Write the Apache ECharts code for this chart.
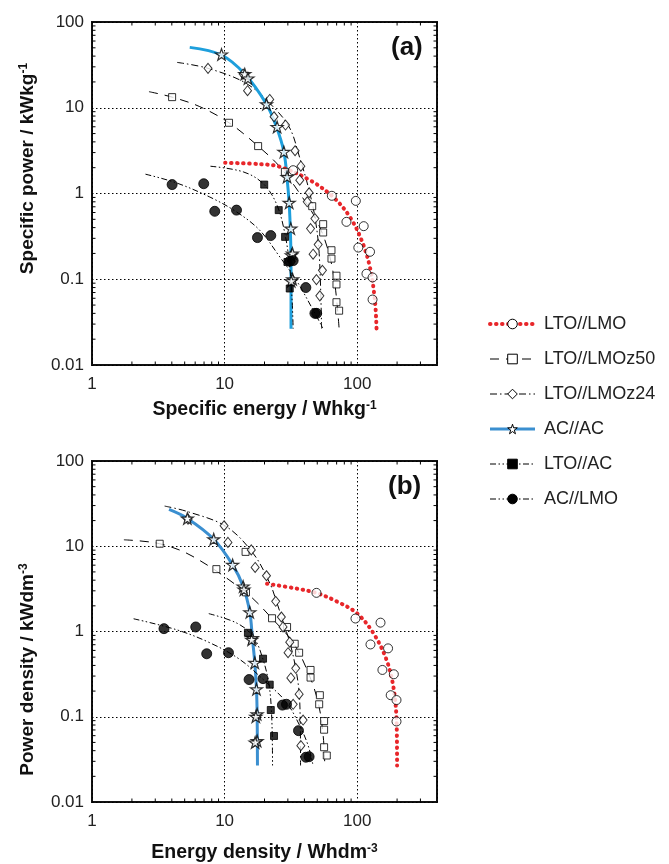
<!DOCTYPE html>
<html>
<head>
<meta charset="utf-8">
<script src="https://cdn.jsdelivr.net/npm/echarts/dist/echarts.min.js"></script>
<style>
  html, body { margin: 0; background: #fff; }
  #chart { width: 669px; height: 864px; }
</style>
</head>
<body>
<div id="chart"></div>
<script>
// series names (legend order)
const names = ['LTO//LMO', 'LTO//LMOz50', 'LTO//LMOz24', 'AC//AC', 'LTO//AC', 'AC//LMO'];

// axis ranges + minor tick values
const xRange = [1, 400];
const yRange = [0.01, 100];
const xMinor = [2, 3, 4, 5, 6, 7, 8, 9, 20, 30, 40, 50, 60, 70, 80, 90, 200, 300];
const yMinor = [0.02, 0.03, 0.04, 0.05, 0.06, 0.07, 0.08, 0.09, 0.2, 0.3, 0.4, 0.5, 0.6, 0.7, 0.8, 0.9,
  2, 3, 4, 5, 6, 7, 8, 9, 20, 30, 40, 50, 60, 70, 80, 90];

// ---- (a) specific energy (Wh/kg) vs specific power (kW/kg) ----
// fitted curves
const aFitLtoLmo = [[10.1, 2.28], [18.4, 2.2], [26.1, 2.05], [44, 1.43], [65.9, 0.91], [88, 0.534], [108, 0.285], [124.7, 0.139], [136, 0.057], [140, 0.0266]];
const aFitLmoz50 = [[2.69, 15.4], [4.02, 13.3], [6.5, 10.3], [10.8, 6.68], [17.9, 3.57], [26.1, 2.05], [36.9, 1.0], [49.3, 0.489], [60.4, 0.218], [67.8, 0.089], [73.1, 0.0265]];
const aFitLmoz24 = [[4.38, 33.8], [7.5, 28.8], [14.6, 19.2], [23.2, 10.3], [31, 5.8], [36.9, 2.6], [42.7, 1.2], [48, 0.53], [51.7, 0.2], [53.9, 0.0266]];
const aFitAcAc = [[5.46, 50.6], [9.46, 41.2], [14.2, 24.7], [20.7, 11.0], [24.6, 6.0], [28.0, 3.06], [29.6, 1.5], [30.7, 0.76], [31.4, 0.34], [31.7, 0.14], [31.7, 0.0265]];
const aFitLtoAc = [[7.82, 2.08], [13.8, 1.79], [19.5, 1.31], [24.6, 0.76], [28.5, 0.341], [31.0, 0.139], [32.3, 0.057], [32.9, 0.0265]];
const aFitAcLmo = [[2.53, 1.68], [4.33, 1.33], [7.73, 0.91], [12.3, 0.61], [18.4, 0.373], [26.1, 0.182], [34.8, 0.097], [45.2, 0.0475], [55.4, 0.0265]];
// measured points
const aPtsLtoLmo = [[32.9, 1.87], [64.4, 0.94], [97.7, 0.82], [83, 0.467], [112, 0.416], [102, 0.234], [125, 0.209], [117.5, 0.116], [130.6, 0.105], [130.6, 0.058]];
const aPtsLmoz50 = [[4.02, 13.3], [10.8, 6.68], [17.9, 3.57], [28.5, 1.79], [45.8, 0.711], [55.4, 0.439], [55.4, 0.351], [64, 0.218], [64, 0.174], [69.8, 0.11], [69.8, 0.087], [69.8, 0.054], [73.1, 0.043]];
const aPtsLmoz24 = [[7.5, 28.8], [13.8, 24.7], [14.9, 15.8], [21.9, 12.5], [23.6, 7.85], [28.8, 6.28], [34.0, 3.15], [37.6, 2.08], [36.9, 1.43], [43.4, 1.02], [42.0, 0.80], [48.0, 0.51], [44.5, 0.39], [50.8, 0.254], [46.5, 0.196], [54.7, 0.127], [49.3, 0.099], [52.3, 0.064]];
const aPtsAcAc = [[9.48, 41.9], [14.2, 24.7], [15.0, 22.0], [20.7, 11.0], [24.9, 5.98], [28.0, 3.06], [29.6, 1.56], [30.7, 0.78], [31.6, 0.39], [31.9, 0.19], [32.5, 0.2], [32.6, 0.1], [31.8, 0.095]];
const aPtsLtoAc = [[19.9, 1.27], [25.6, 0.64], [28.6, 0.312], [29.8, 0.159], [31.0, 0.078]];
const aPtsAcLmo = [[4.02, 1.27], [6.96, 1.30], [8.43, 0.62], [12.3, 0.64], [17.7, 0.306], [22.3, 0.323], [31.0, 0.162], [32.9, 0.165], [41.0, 0.080], [48.0, 0.040], [49.5, 0.040]];

// ---- (b) energy density (Wh/dm3) vs power density (kW/dm3) ----
const bFitLtoLmo = [[20.9, 3.63], [32.9, 3.24], [49.3, 2.83], [69.8, 2.26], [98.9, 1.65], [132, 0.965], [166, 0.471], [187, 0.23], [198, 0.094], [200, 0.0268]];
const bFitLmoz50 = [[1.74, 11.9], [3.24, 10.7], [5.78, 7.57], [14.6, 2.83], [23.2, 1.38], [32.9, 0.738], [42.7, 0.33], [50.8, 0.147], [55.4, 0.06], [57.0, 0.0268]];
const bFitLmoz24 = [[3.53, 29.6], [5.3, 25.4], [10.3, 17.0], [16.4, 8.28], [21.9, 3.70], [24.6, 2.26], [27.6, 1.3], [31.1, 0.738], [34.4, 0.37], [36.5, 0.192], [37.2, 0.09], [37.4, 0.0268]];
const bFitAcAc = [[3.81, 27.0], [5.24, 21.2], [8.28, 12.1], [11.5, 6.05], [13.8, 3.38], [15.5, 1.68], [16.2, 0.84], [16.9, 0.43], [17.4, 0.21], [17.6, 0.107], [17.7, 0.0268]];
const bFitLtoAc = [[7.6, 1.62], [12.3, 1.26], [16.4, 0.88], [19.5, 0.47], [21.7, 0.23], [22.7, 0.094], [23.0, 0.0268]];
const bFitAcLmo = [[2.06, 1.41], [4.33, 1.05], [7.73, 0.738], [13.0, 0.471], [20.7, 0.252], [29.3, 0.147], [36.9, 0.0785], [42.7, 0.0458], [46.5, 0.0268]];
const bPtsLtoLmo = [[49.3, 2.84], [97.1, 1.42], [150, 1.27], [126, 0.705], [171, 0.634], [155, 0.354], [189, 0.315], [179, 0.179], [198, 0.157], [198, 0.088]];
const bPtsLmoz50 = [[3.24, 10.7], [8.67, 5.39], [14.4, 8.59], [14.5, 2.88], [22.8, 1.43], [29.6, 1.13], [33.8, 0.718], [36.5, 0.564], [44.5, 0.354], [44.5, 0.288], [52.3, 0.179], [51.7, 0.14], [56.3, 0.089], [56.3, 0.0705], [56.3, 0.0439], [59.0, 0.0351]];
const bPtsLmoz24 = [[5.3, 20.8], [9.91, 17.4], [10.6, 11.1], [15.9, 9.06], [17.0, 5.64], [20.7, 4.51], [24.3, 2.26], [26.8, 1.48], [27.6, 1.13], [31.0, 0.75], [30.1, 0.564], [34.4, 0.37], [31.6, 0.285], [36.5, 0.184], [32.9, 0.14], [39.1, 0.0914], [37.6, 0.0458]];
const bPtsAcAc = [[5.24, 21.2], [8.28, 12.1], [11.5, 6.05], [13.8, 3.38], [14.0, 3.1], [15.5, 1.68], [16.2, 0.84], [16.0, 0.8], [16.9, 0.43], [17.4, 0.21], [17.6, 0.107], [17.2, 0.1], [17.6, 0.052], [17.0, 0.05]];
const bPtsLtoAc = [[15.0, 0.965], [19.5, 0.48], [21.9, 0.238], [22.3, 0.12], [23.6, 0.0595]];
const bPtsAcLmo = [[3.49, 1.08], [6.06, 1.13], [7.33, 0.548], [10.7, 0.564], [15.3, 0.273], [19.5, 0.28], [27.3, 0.137], [29.3, 0.14], [36.1, 0.0687], [41.0, 0.0335], [43.4, 0.034]];

const fits = [
  [aFitLtoLmo, aFitLmoz50, aFitLmoz24, aFitAcAc, aFitLtoAc, aFitAcLmo],
  [bFitLtoLmo, bFitLmoz50, bFitLmoz24, bFitAcAc, bFitLtoAc, bFitAcLmo]
];
const pts = [
  [aPtsLtoLmo, aPtsLmoz50, aPtsLmoz24, aPtsAcAc, aPtsLtoAc, aPtsAcLmo],
  [bPtsLtoLmo, bPtsLmoz50, bPtsLmoz24, bPtsAcAc, bPtsLtoAc, bPtsAcLmo]
];

const FONT = '"Liberation Sans", Arial, sans-serif';
const STAR = 'path://M50,2 L61,36 L97,36 L68,57 L79,92 L50,71 L21,92 L32,57 L3,36 L39,36 Z';
const openStyle = { color: '#fff', borderColor: '#000', borderWidth: 1 };
const fillStyle = { color: '#000', borderColor: '#000', borderWidth: 1 };

// look of each series: line + marker
const looks = [
  { line: { color: '#e8262a', width: 4, type: [0.5, 5.5], cap: 'round' }, symbol: 'circle', size: 9, item: openStyle },
  { line: { color: '#000', width: 1, type: [9, 7] }, symbol: 'rect', size: 7, item: openStyle },
  { line: { color: '#000', width: 1, type: [7, 3, 1.5, 3] }, symbol: 'diamond', size: [8, 10], item: openStyle },
  { line: { color: '#1e9fdc', width: 3, type: 'solid' }, symbol: STAR, size: 12, item: { color: '#fff', borderColor: '#000', borderWidth: 1.2 } },
  { line: { color: '#000', width: 1, type: [6, 2.5, 1.5, 2.5, 1.5, 2.5] }, symbol: 'rect', size: 7, item: fillStyle },
  { line: { color: '#000', width: 1, type: [6, 2.5, 1.5, 2.5, 1.5, 2.5] }, symbol: 'circle', size: 10, item: fillStyle }
];
const blueB = '#3b8fd0';

const gridBox = [
  { left: 92, top: 22, width: 345, height: 343 },
  { left: 92, top: 461, width: 345, height: 342 }
];

function powLabel(v) {
  const l = Math.log10(v);
  const e = Math.round(l);
  if (Math.abs(l - e) > 1e-6) return '';
  return e >= 0 ? String(Math.pow(10, e)) : Math.pow(10, e).toFixed(-e);
}

const supRich = { s: { fontSize: 12, fontWeight: 'bold', verticalAlign: 'top', color: '#111', fontFamily: FONT, padding: [0, 0, 7, 0] } };
const xNames = ['Specific energy / Whkg{s|-1}', 'Energy density / Whdm{s|-3}'];
const yNames = ['Specific power / kWkg{s|-1}', 'Power density / kWdm{s|-3}'];
const xNameGap = [35, 41];

const xAxis = [0, 1].map(g => ({
  type: 'log', gridIndex: g, min: xRange[0], max: xRange[1], logBase: 10,
  name: xNames[g], nameLocation: 'middle', nameGap: xNameGap[g],
  nameTextStyle: { fontSize: 19.5, fontWeight: 'bold', color: '#111', fontFamily: FONT, rich: supRich },
  axisLine: { show: false }, axisTick: { show: false },
  axisLabel: { fontSize: 17, color: '#222', fontFamily: FONT, margin: 11, formatter: powLabel, showMaxLabel: false },
  splitLine: { show: true, lineStyle: { color: '#000', width: 1, type: [1.5, 2.5] } },
  minorTick: { show: false }
}));
const yAxis = [0, 1].map(g => ({
  type: 'log', gridIndex: g, min: yRange[0], max: yRange[1], logBase: 10,
  name: yNames[g], nameLocation: 'middle', nameGap: 55,
  nameTextStyle: { fontSize: 19, fontWeight: 'bold', color: '#111', fontFamily: FONT, rich: supRich, padding: g === 0 ? [0, 0, 0, 50] : [0, 76, 0, 0] },
  axisLine: { show: false }, axisTick: { show: false },
  axisLabel: { fontSize: 17, color: '#222', fontFamily: FONT, margin: 8, formatter: powLabel },
  splitLine: { show: true, lineStyle: { color: '#000', width: 1, type: [1.5, 2.5] } }
}));

const series = [];
[0, 1].forEach(g => {
  names.forEach((n, i) => {
    const lk = looks[i];
    const ls = Object.assign({}, lk.line);
    if (i === 3 && g === 1) ls.color = blueB;
    series.push({
      name: n, type: 'line', xAxisIndex: g, yAxisIndex: g, data: fits[g][i],
      smooth: 0.35, showSymbol: false, symbol: lk.symbol, symbolSize: lk.size, symbolKeepAspect: true,
      itemStyle: lk.item, lineStyle: ls, z: i === 0 ? 3 : 2, silent: true
    });
  });
});
[0, 1].forEach(g => {
  names.forEach((n, i) => {
    const lk = looks[i];
    series.push({
      name: n, type: 'scatter', xAxisIndex: g, yAxisIndex: g, data: pts[g][i],
      symbol: lk.symbol, symbolSize: lk.size, symbolKeepAspect: true,
      itemStyle: lk.item, z: 5, silent: true
    });
  });
});

// minor ticks inside the frame (log spaced), placed through the axes' scales
const TICK = 3.5;
function tickLine(x1, y1, x2, y2) {
  return { type: 'line', shape: { x1, y1, x2, y2 }, style: { stroke: '#000', lineWidth: 1 } };
}
[0, 1].forEach(g => {
  series.push({
    type: 'custom', xAxisIndex: g, yAxisIndex: g, z: 10, silent: true,
    data: xMinor.map(v => [v, 1]),
    renderItem: (params, api) => {
      const v = api.value(0);
      const b = api.coord([v, yRange[0]]);
      const t = api.coord([v, yRange[1]]);
      return { type: 'group', children: [tickLine(b[0], b[1], b[0], b[1] - TICK), tickLine(t[0], t[1], t[0], t[1] + TICK)] };
    }
  });
  series.push({
    type: 'custom', xAxisIndex: g, yAxisIndex: g, z: 10, silent: true,
    data: yMinor.map(v => [1, v]),
    renderItem: (params, api) => {
      const v = api.value(1);
      const l = api.coord([xRange[0], v]);
      const r = api.coord([xRange[1], v]);
      return { type: 'group', children: [tickLine(l[0], l[1], l[0] + TICK, l[1]), tickLine(r[0], r[1], r[0] - TICK, r[1])] };
    }
  });
});

const legendData = names.map((n, i) => ({
  name: n,
  itemStyle: Object.assign({}, looks[i].item, { borderWidth: 1 }),
  lineStyle: Object.assign({}, looks[i].line, i === 3 ? { color: blueB } : {}, i === 0 ? { width: 4 } : {})
}));

const chart = echarts.init(document.getElementById('chart'), null, { renderer: 'canvas' });
chart.setOption({
  animation: false,
  backgroundColor: '#fff',
  grid: gridBox.map(b => Object.assign({ show: true, borderColor: '#111', borderWidth: 2, backgroundColor: 'transparent' }, b)),
  xAxis, yAxis,
  legend: {
    orient: 'vertical', left: 483, top: 310, itemWidth: 45, itemHeight: 12, itemGap: 17,
    selectedMode: false, data: legendData,
    textStyle: { fontSize: 18, color: '#222', fontFamily: FONT, padding: [0, 0, 0, 4] }
  },
  graphic: [
    { type: 'text', left: 391, top: 35, style: { text: '(a)', font: 'bold 26px ' + FONT, fill: '#111' } },
    { type: 'text', left: 388, top: 474, style: { text: '(b)', font: 'bold 26px ' + FONT, fill: '#111' } }
  ],
  series
});
</script>
</body>
</html>
